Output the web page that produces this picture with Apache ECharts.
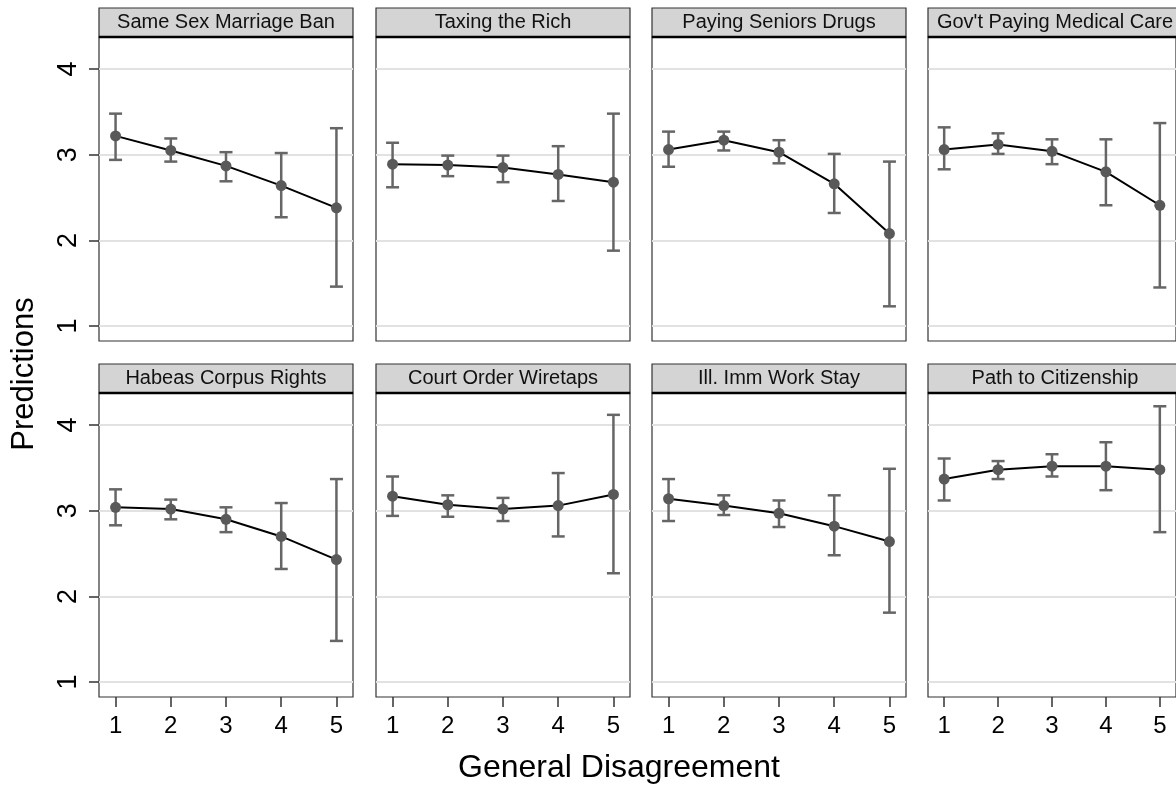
<!DOCTYPE html>
<html>
<head>
<meta charset="utf-8">
<script src="https://cdn.jsdelivr.net/npm/echarts@6/dist/echarts.min.js"></script>
<style>
html,body{margin:0;padding:0;background:#fff;}
#chart{width:1176px;height:785px;}
</style>
</head>
<body>
<div id="chart"></div>
<script>
var myChart = echarts.init(document.getElementById('chart'));

// panel titles
var panelNames = ['Same Sex Marriage Ban', 'Taxing the Rich', 'Paying Seniors Drugs', "Gov't Paying Medical Care",
                  'Habeas Corpus Rights', 'Court Order Wiretaps', 'Ill. Imm Work Stay', 'Path to Citizenship'];
var xVals = [1, 2, 3, 4, 5];
var xTicks = [1, 2, 3, 4, 5];
var yTicks = [1, 2, 3, 4];

// predicted values, one row per panel
var predMean = [
    [3.22, 3.05, 2.87, 2.64, 2.38],
    [2.89, 2.88, 2.85, 2.77, 2.68],
    [3.06, 3.17, 3.03, 2.66, 2.08],
    [3.06, 3.12, 3.04, 2.80, 2.41],
    [3.04, 3.02, 2.90, 2.70, 2.43],
    [3.17, 3.07, 3.02, 3.06, 3.19],
    [3.14, 3.06, 2.97, 2.82, 2.64],
    [3.37, 3.48, 3.52, 3.52, 3.48]
];
var predLow = [
    [2.94, 2.92, 2.69, 2.27, 1.46],
    [2.62, 2.75, 2.68, 2.46, 1.88],
    [2.86, 3.05, 2.90, 2.32, 1.23],
    [2.83, 3.01, 2.89, 2.41, 1.45],
    [2.83, 2.90, 2.75, 2.32, 1.48],
    [2.94, 2.93, 2.88, 2.70, 2.27],
    [2.88, 2.95, 2.81, 2.48, 1.81],
    [3.12, 3.37, 3.40, 3.24, 2.75]
];
var predHigh = [
    [3.48, 3.19, 3.03, 3.02, 3.31],
    [3.14, 2.99, 2.99, 3.10, 3.48],
    [3.27, 3.27, 3.17, 3.01, 2.92],
    [3.32, 3.25, 3.18, 3.18, 3.37],
    [3.25, 3.13, 3.04, 3.09, 3.37],
    [3.40, 3.18, 3.15, 3.44, 4.12],
    [3.37, 3.18, 3.12, 3.18, 3.49],
    [3.61, 3.58, 3.66, 3.80, 4.22]
];

var FONT = "'Liberation Sans', Arial, sans-serif";
var colLeft = [99, 376, 652, 928];
var rowTop = [37, 393];
var panelW = 254, panelH = 304, stripH = 29;

var grids = [], xAxes = [], yAxes = [], series = [], graphics = [];

for (var i = 0; i < 8; i++) {
    var row = Math.floor(i / 4), col = i % 4;
    grids.push({
        left: colLeft[col], top: rowTop[row], width: panelW, height: panelH,
        show: true, borderColor: '#333', borderWidth: 1.2, backgroundColor: '#fff'
    });
    xAxes.push({
        gridIndex: i, type: 'value', min: 0.7, max: 5.3,
        axisLine: {show: false},
        axisTick: {show: row == 1, length: 10, customValues: xTicks, lineStyle: {color: '#333', width: 1.5}},
        axisLabel: {show: row == 1, customValues: xTicks, fontSize: 24, color: '#000', fontFamily: FONT, margin: 17},
        splitLine: {show: false}
    });
    yAxes.push({
        gridIndex: i, type: 'value', min: 0.825, max: 4.375,
        axisLine: {show: false},
        axisTick: {show: col == 0, length: 10, customValues: yTicks, lineStyle: {color: '#333', width: 1.5}},
        axisLabel: {show: col == 0, customValues: yTicks, rotate: 90, fontSize: 27, color: '#000', fontFamily: FONT, margin: 17},
        splitLine: {show: true, lineStyle: {color: '#e2e2e2', width: 2}}
    });

    var errData = [], ptData = [];
    for (var j = 0; j < xVals.length; j++) {
        errData.push([xVals[j], predLow[i][j], predHigh[i][j]]);
        ptData.push([xVals[j], predMean[i][j]]);
    }
    series.push({
        type: 'custom', xAxisIndex: i, yAxisIndex: i, z: 2,
        data: errData,
        renderItem: function (params, api) {
            var lo = api.coord([api.value(0), api.value(1)]);
            var hi = api.coord([api.value(0), api.value(2)]);
            var cw = 6.5;
            var st = {stroke: '#666', lineWidth: 2.5, fill: null};
            return {
                type: 'group',
                children: [
                    {type: 'line', shape: {x1: lo[0], y1: lo[1], x2: hi[0], y2: hi[1]}, style: st},
                    {type: 'line', shape: {x1: lo[0] - cw, y1: lo[1], x2: lo[0] + cw, y2: lo[1]}, style: st},
                    {type: 'line', shape: {x1: hi[0] - cw, y1: hi[1], x2: hi[0] + cw, y2: hi[1]}, style: st}
                ]
            };
        }
    });
    series.push({
        type: 'line', xAxisIndex: i, yAxisIndex: i, z: 3,
        data: ptData,
        symbol: 'circle', symbolSize: 11,
        lineStyle: {color: '#000', width: 2},
        itemStyle: {color: '#595959'},
        animation: false
    });

    // strip header
    graphics.push({
        type: 'rect', shape: {x: colLeft[col], y: rowTop[row] - stripH, width: panelW, height: stripH},
        style: {fill: '#d4d4d4', stroke: '#333', lineWidth: 1.2}
    });
    graphics.push({
        type: 'line', shape: {x1: colLeft[col], y1: rowTop[row], x2: colLeft[col] + panelW, y2: rowTop[row]},
        style: {stroke: '#000', lineWidth: 2.5}
    });
    graphics.push({
        type: 'text', x: colLeft[col] + panelW / 2, y: rowTop[row] - stripH / 2,
        style: {text: panelNames[i], fill: '#111', font: '20px ' + FONT, align: 'center', verticalAlign: 'middle'}
    });
}

graphics.push({
    type: 'text', x: 619, y: 768,
    style: {text: 'General Disagreement', fill: '#000', font: '32px ' + FONT, align: 'center', verticalAlign: 'middle'}
});
graphics.push({
    type: 'text', x: 24, y: 374, rotation: Math.PI / 2,
    style: {text: 'Predictions', fill: '#000', font: '31px ' + FONT, align: 'center', verticalAlign: 'middle'}
});

var option = {
    backgroundColor: '#fff',
    animation: false,
    grid: grids,
    xAxis: xAxes,
    yAxis: yAxes,
    series: series,
    graphic: graphics
};
myChart.setOption(option);
</script>
</body>
</html>
